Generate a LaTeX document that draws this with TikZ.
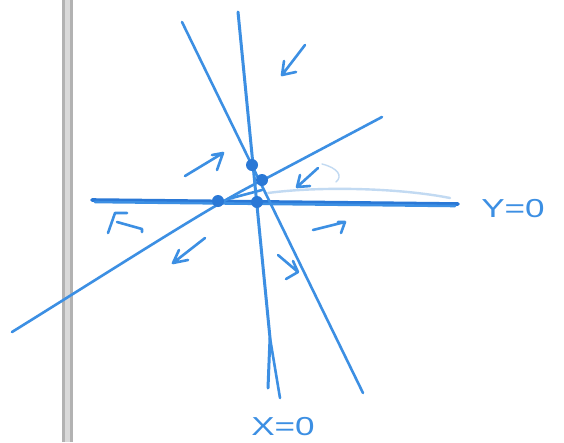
\documentclass[tikz,border=0pt]{standalone}
\usepackage{fontspec}
\setmainfont{Liberation Sans}
\definecolor{pen}{HTML}{3C8FE3}
\definecolor{pendark}{HTML}{2A78D6}
\definecolor{faint}{HTML}{C2DAF2}
\begin{document}
\begin{tikzpicture}[x=1pt,y=-1pt,
  stroke/.style={draw=pen,line width=2.6pt,line cap=round,line join=round},
  thick stroke/.style={draw=pendark,line width=3.6pt,line cap=round},
  dotmark/.style={circle,fill=pendark,inner sep=0pt,minimum size=12pt},
  handlabel/.style={text=pen,font=\fontsize{26}{26}\selectfont,inner sep=0pt,xscale=1.35}]
\useasboundingbox (0,0) rectangle (564,442);
\fill[white] (0,0) rectangle (564,442);
% binder bar
\fill[gray!60] (62,0) rectangle (73,442);
\fill[gray!30] (65,0) rectangle (70,442);
% faint stroke
\draw[faint,line width=2.4pt,line cap=round] (268,193) .. controls (320,186) and (400,188) .. (450,198);
\draw[faint,line width=1.4pt,line cap=round] (322,164) .. controls (338,168) and (343,176) .. (336,182);
% horizontal axis Y=0
\coordinate (hL) at (92,200);
\coordinate (hR) at (458,204);
\draw[thick stroke] (hL) -- (hR);
\draw[stroke] (95,202) -- (455,206);
% near-vertical line X=0
\coordinate (v1top) at (238,12);
\coordinate (vsplit) at (270,338);
\coordinate (v1a) at (268,388);
\coordinate (v1b) at (280,398);
\draw[stroke,line width=3pt] (v1top) -- (vsplit) -- (v1a);
\draw[stroke] (vsplit) -- (v1b);
% steep line
\coordinate (v2top) at (182,22);
\coordinate (v2bot) at (363,393);
\draw[stroke] (v2top) -- (v2bot);
% diagonal line
\coordinate (dL) at (12,332);
\coordinate (dR) at (382,117);
\draw[stroke] (dL) .. controls (120,265) and (220,200) .. (265,179) -- (dR);
\draw[stroke] (228,199) -- (262,190);
% dots
\node[dotmark] (p1) at (218,201) {};
\node[dotmark] (p2) at (252,165) {};
\node[dotmark] (p3) at (262,180) {};
\node[dotmark] (p4) at (257,202) {};
% hand-drawn arrows
\draw[stroke] (305,45) -- (282,75) (282,75) -- (284,61) (282,75) -- (296,72);
\draw[stroke] (185,176) -- (223,153) (223,153) -- (212,155) (223,153) -- (217,170);
\draw[stroke] (318,168) -- (297,187) (297,187) -- (300,175) (297,187) -- (310,186);
\draw[stroke] (313,230) -- (345,222) (345,222) -- (338,222) (345,222) -- (341,233);
\draw[stroke] (205,238) -- (173,263) (173,263) -- (179,250) (173,263) -- (188,260);
\draw[stroke] (278,255) -- (298,272) (298,272) -- (293,261) (298,272) -- (286,279);
% F-like mark
\draw[stroke] (127,213) -- (115,213) -- (108,233);
\draw[stroke] (117,222) -- (142,229) -- (142,232);
% labels
\node[handlabel,anchor=west] (ylab) at (481,209) {Y=0};
\node[handlabel,anchor=north] (xlab) at (283,417) {X=0};
\end{tikzpicture}
\end{document}
